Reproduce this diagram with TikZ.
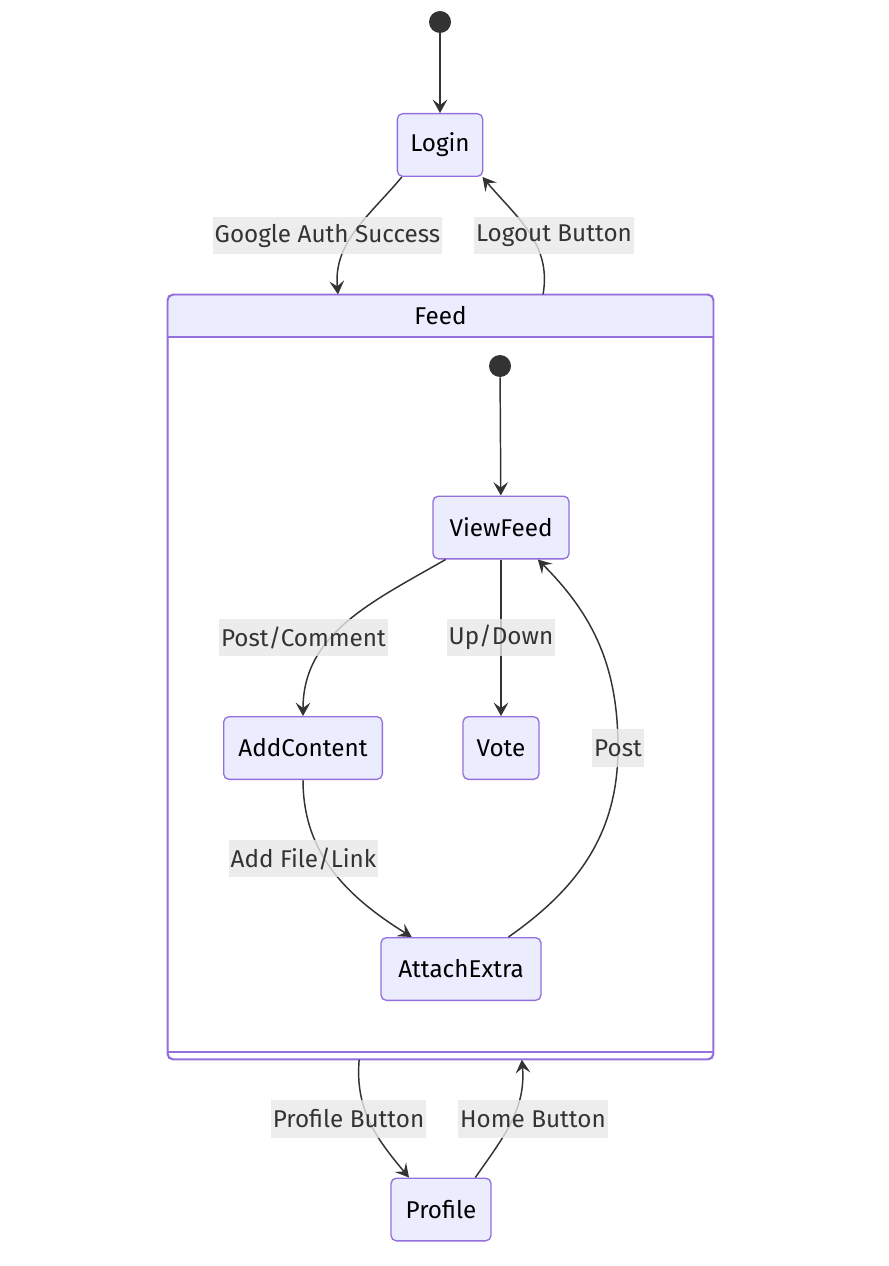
\documentclass[tikz,border=0pt]{standalone}
\usepackage{fontspec}
\setmainfont{Fira Sans}
\usepackage{tikz}
\usetikzlibrary{arrows.meta}
\definecolor{statefill}{HTML}{ECECFF}
\definecolor{stateline}{HTML}{9370DB}
\definecolor{edgeline}{HTML}{333333}
\definecolor{labelfill}{HTML}{E8E8E8}

\begin{document}
\begin{tikzpicture}[x=0.75pt, y=-0.75pt,
    state/.style={draw=stateline, fill=statefill, line width=1pt, rounded corners=4pt,
        minimum height=47pt, inner xsep=2pt, text=black, font=\fontsize{18.2}{21}\selectfont},
    startdot/.style={circle, fill=edgeline, inner sep=0pt, minimum size=16.5pt},
    edge/.style={draw=edgeline, line width=1.1pt, -{Stealth[length=10pt, width=11pt, inset=4pt]}},
    lbl/.style={fill=labelfill, fill opacity=0.8, text opacity=1, text=edgeline,
        inner xsep=1.5pt, inner ysep=0pt, minimum height=28pt, font=\fontsize{18.2}{21}\selectfont},
    clusterline/.style={draw=stateline, line width=1pt}]
    \useasboundingbox (0,0) rectangle (888,1266);

    % outer frame
    \node[clusterline, fill=white, rounded corners=4pt, minimum width=408.75pt,
        minimum height=573pt, inner sep=0pt] (Feed) at (440.5,677) {};
    \fill[statefill] (168.7,337) {[rounded corners=4pt] -- (168.7,295.7) -- (712.3,295.7)} -- (712.3,337) -- cycle;
    \draw[clusterline, rounded corners=4pt] (Feed.north west) rectangle (Feed.south east);
    \draw[clusterline] (168,337) -- (713,337);
    \draw[clusterline] (168,1052) -- (713,1052);
    \node[text=black, font=\fontsize{18.2}{21}\selectfont] (FeedTitle) at (440.5,316) {Feed};

    \node[startdot] (Start) at (440,22) {};
    \node[state, minimum width=64pt] (Login) at (440,145) {Login};

    \node[startdot] (InStart) at (500,366) {};
    \node[state, minimum width=102pt] (ViewFeed) at (501,527.5) {ViewFeed};
    \node[state, minimum width=119pt] (AddContent) at (303,748) {AddContent};
    \node[state, minimum width=57pt] (Vote) at (501,748) {Vote};
    \node[state, minimum width=120pt] (AttachExtra) at (461,969) {AttachExtra};
    \coordinate (PostMid) at (618,748);

    \node[state, minimum width=75pt] (Profile) at (441,1209.5) {Profile};

    \draw[edge] (Start) -- (Login);
    \draw[edge] (Login.-140) to[out=-130, in=95] (Feed.105);
    \draw[edge] (Feed.75) to[out=80, in=-50] (Login.-37);

    \draw[edge] (InStart) -- (ViewFeed);
    \draw[edge] (ViewFeed.-150) to[out=-150, in=90] (AddContent.north);
    \draw[edge] (ViewFeed.south) -- (Vote.north);
    \draw[edge] (AddContent.south) to[out=-90, in=148] (AttachExtra.147);
    \draw[edge] (AttachExtra.34) to[out=35, in=-90] (PostMid) to[out=90, in=-45] (ViewFeed.-41);

    \draw[edge] (Feed.-102) to[out=-95, in=130] (Profile.135);
    \draw[edge] (Profile.43) to[out=55, in=-85] (Feed.-78);

    % edge labels
    \node[lbl] (GoogleLbl) at (327.5,235.5) {Google Auth Success};
    \node[lbl] (LogoutLbl) at (554,235.5) {Logout Button};
    \node[lbl] (PostCommentLbl) at (303.5,637.5) {Post/Comment};
    \node[lbl] (UpDownLbl) at (501,637.5) {Up/Down};
    \node[lbl] (PostLbl) at (618,748) {Post};
    \node[lbl] (AddFileLbl) at (303.5,858.5) {Add File/Link};
    \node[lbl] (ProfileBtnLbl) at (348.5,1119) {Profile Button};
    \node[lbl] (HomeBtnLbl) at (533,1119) {Home Button};
\end{tikzpicture}
\end{document}
